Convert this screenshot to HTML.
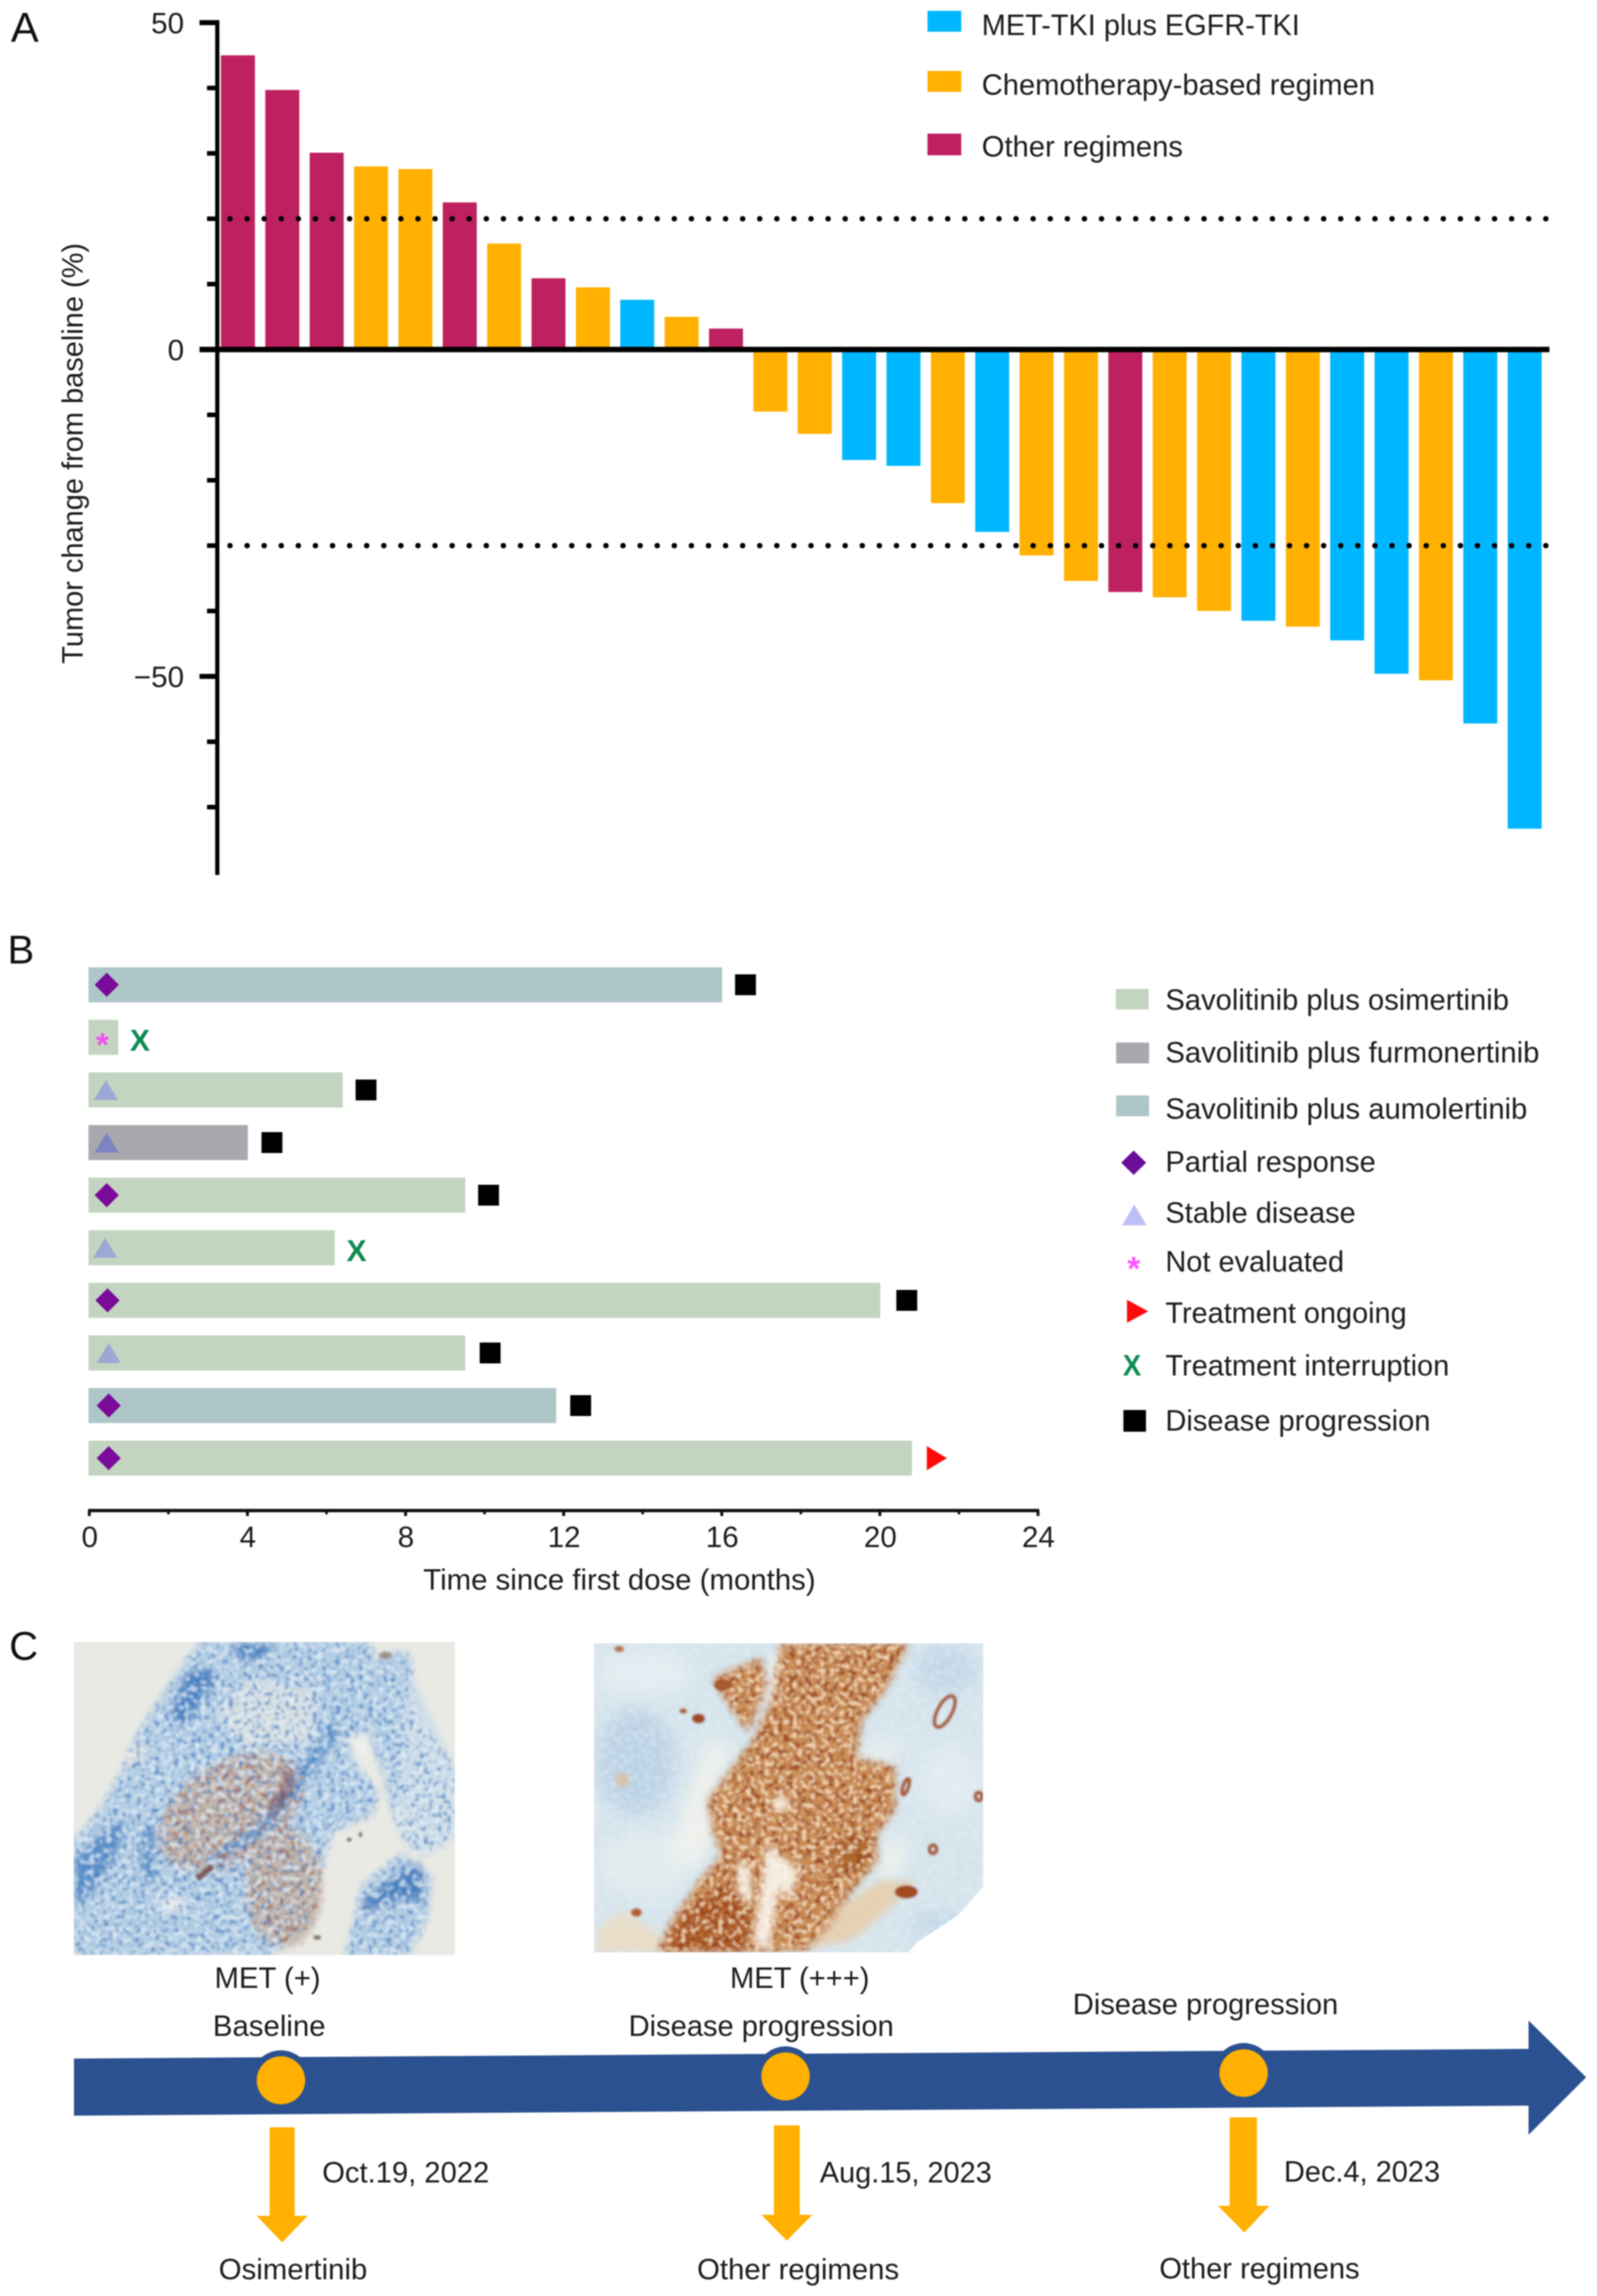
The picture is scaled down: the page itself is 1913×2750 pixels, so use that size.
<!DOCTYPE html>
<html lang="en">
<head>
<meta charset="utf-8">
<title>Tumor response, treatment duration and MET timeline</title>
<style>
html,body{margin:0;padding:0;background:#fff;}
body{width:1913px;height:2750px;overflow:hidden;}
svg{display:block;filter:blur(0.7px);}
text{font-family:"Liberation Sans",Arial,sans-serif;fill:#1c1c1c;font-size:35.5px;}
.panel{font-size:50px;fill:#111;}
</style>
</head>
<body>
<svg id="figure" xmlns="http://www.w3.org/2000/svg" width="1913" height="2750" viewBox="0 0 1913 2750">
<defs>
  <filter id="b30" x="-20%" y="-20%" width="140%" height="140%"><feGaussianBlur stdDeviation="30"/></filter>
  <filter id="b12" x="-20%" y="-20%" width="140%" height="140%"><feGaussianBlur stdDeviation="13"/></filter>
  <filter id="b4" x="-5%" y="-5%" width="110%" height="110%"><feGaussianBlur stdDeviation="4"/></filter>
  <filter id="speck-blue" x="0" y="0" width="100%" height="100%" color-interpolation-filters="sRGB">
    <feTurbulence type="fractalNoise" baseFrequency="0.06" numOctaves="2" seed="4"/>
    <feColorMatrix type="matrix" values="0 0 0 0 0.25  0 0 0 0 0.47  0 0 0 0 0.75  6 0 0 0 -3.1"/>
  </filter>
  <filter id="speck-white" x="0" y="0" width="100%" height="100%" color-interpolation-filters="sRGB">
    <feTurbulence type="fractalNoise" baseFrequency="0.05" numOctaves="2" seed="11"/>
    <feColorMatrix type="matrix" values="0 0 0 0 0.90  0 0 0 0 0.94  0 0 0 0 0.97  6 0 0 0 -3.0"/>
  </filter>
  <filter id="speck-brown" x="0" y="0" width="100%" height="100%" color-interpolation-filters="sRGB">
    <feTurbulence type="fractalNoise" baseFrequency="0.05" numOctaves="2" seed="21"/>
    <feColorMatrix type="matrix" values="0 0 0 0 0.62  0 0 0 0 0.38  0 0 0 0 0.32  7 0 0 0 -3.9"/>
  </filter>
  <filter id="speck-dark" x="0" y="0" width="100%" height="100%" color-interpolation-filters="sRGB">
    <feTurbulence type="fractalNoise" baseFrequency="0.05" numOctaves="2" seed="7"/>
    <feColorMatrix type="matrix" values="0 0 0 0 0.58  0 0 0 0 0.24  0 0 0 0 0.09  7 0 0 0 -3.5"/>
  </filter>
  <filter id="speck-cream" x="0" y="0" width="100%" height="100%" color-interpolation-filters="sRGB">
    <feTurbulence type="fractalNoise" baseFrequency="0.06" numOctaves="2" seed="15"/>
    <feColorMatrix type="matrix" values="0 0 0 0 0.98  0 0 0 0 0.90  0 0 0 0 0.78  8 0 0 0 -4.2"/>
  </filter>
  <clipPath id="clip-ihc-1"><rect x="25" y="20" width="1370" height="1125"/></clipPath>
  <clipPath id="clip-ihc-2"><polygon points="20,25 1418,25 1418,900 1330,1000 1180,1100 1150,1135 20,1135"/></clipPath>
  <mask id="m-tissue-1" maskUnits="userSpaceOnUse" x="0" y="0" width="1420" height="1170">
    <g fill="#fff" filter="url(#b12)">
      <polygon points="25,740 120,620 200,480 230,390 370,170 480,20 1090,20 1110,100 1150,60 1230,60 1260,300 1395,470 1395,720 1290,780 1230,760 1180,660 1140,500 1080,340 1000,370 1050,480 1120,560 1100,640 950,700 900,900 860,1040 740,1145 25,1145"/>
      <polygon points="1060,900 1200,780 1310,860 1300,1000 1230,1145 1000,1145 1040,1000"/>
    </g>
  </mask>
  <mask id="m-brown-1" maskUnits="userSpaceOnUse" x="0" y="0" width="1420" height="1170">
    <g fill="#fff" filter="url(#b12)">
      <ellipse cx="590" cy="630" rx="290" ry="180" transform="rotate(-32 590 630)"/>
      <ellipse cx="780" cy="900" rx="140" ry="220"/>
    </g>
  </mask>
  <mask id="m-tissue-2" maskUnits="userSpaceOnUse" x="0" y="0" width="1440" height="1170">
    <g fill="#fff" filter="url(#b12)">
      <polygon points="690,25 1150,25 1100,120 1060,200 980,300 960,440 1100,470 1100,620 1030,720 1040,800 940,920 860,1040 780,1130 240,1135 310,1010 400,880 480,790 450,700 430,590 520,470 590,380 650,250 680,100"/>
      <polygon points="450,150 620,80 640,180 570,340 510,250"/>
    </g>
  </mask>
</defs>

<!-- ===== Panel A ===== -->
<g id="panel-a">
  <text class="panel" x="13" y="50">A</text>
  <text x="0" y="0" textLength="504" lengthAdjust="spacingAndGlyphs" transform="translate(99,795) rotate(-90)">Tumor change from baseline (%)</text>
  <g id="a-bars"></g>
  <g id="a-thresholds"></g>
  <g id="a-axes"></g>
  <g>
    <rect x="1111" y="13" width="40.5" height="25" fill="#00b7ff"/>
    <text x="1176" y="42" textLength="381" lengthAdjust="spacingAndGlyphs">MET-TKI plus EGFR-TKI</text>
    <rect x="1111" y="85" width="40.5" height="25" fill="#ffb000"/>
    <text x="1176" y="113.5" textLength="471" lengthAdjust="spacingAndGlyphs">Chemotherapy-based regimen</text>
    <rect x="1111" y="160" width="40.5" height="26" fill="#be2160"/>
    <text x="1176" y="187.5" textLength="241" lengthAdjust="spacingAndGlyphs">Other regimens</text>
  </g>
</g>

<!-- ===== Panel B ===== -->
<g id="panel-b">
  <text class="panel" x="9" y="1154" style="font-size:48px">B</text>
  <g id="b-bars"></g>
  <g id="b-markers"></g>
  <g id="b-axis"></g>
  <text x="507" y="1904" textLength="470" lengthAdjust="spacingAndGlyphs">Time since first dose (months)</text>
  <g>
    <rect x="1336.5" y="1184.5" width="39.5" height="24.5" fill="#c3d5c0"/>
    <text x="1396" y="1209.3" textLength="411.5" lengthAdjust="spacingAndGlyphs">Savolitinib plus osimertinib</text>
    <rect x="1337" y="1248.7" width="39.5" height="25" fill="#a8a8ae"/>
    <text x="1396" y="1272.5" textLength="448" lengthAdjust="spacingAndGlyphs">Savolitinib plus furmonertinib</text>
    <rect x="1337" y="1312" width="39.5" height="25" fill="#afc6c8"/>
    <text x="1396" y="1340" textLength="433.5" lengthAdjust="spacingAndGlyphs">Savolitinib plus aumolertinib</text>
    <polygon points="1343,1392.6 1358,1378 1373,1392.6 1358,1407.2" fill="#6a0f9a"/>
    <text x="1396" y="1403.7" textLength="252" lengthAdjust="spacingAndGlyphs">Partial response</text>
    <polygon points="1344,1467.6 1358.7,1442.8 1373.5,1467.6" fill="#bfbff5"/>
    <text x="1396" y="1464.6" textLength="228" lengthAdjust="spacingAndGlyphs">Stable disease</text>
    <text x="1358" y="1532.9" text-anchor="middle" style="font-size:40px;font-weight:bold;fill:#ff55ff">*</text>
    <text x="1396" y="1523" textLength="214" lengthAdjust="spacingAndGlyphs">Not evaluated</text>
    <polygon points="1350,1556.8 1375.4,1570.6 1350,1584.4" fill="#ff0a0a"/>
    <text x="1396" y="1584.4" textLength="289" lengthAdjust="spacingAndGlyphs">Treatment ongoing</text>
    <text x="1345" y="1647.5" textLength="22" lengthAdjust="spacingAndGlyphs" style="font-weight:bold;fill:#0f8a4f">X</text>
    <text x="1396" y="1647.5" textLength="340" lengthAdjust="spacingAndGlyphs">Treatment interruption</text>
    <rect x="1345.7" y="1688.8" width="27" height="26" fill="#000"/>
    <text x="1396" y="1713.7" textLength="317.5" lengthAdjust="spacingAndGlyphs">Disease progression</text>
  </g>
</g>

<!-- ===== Panel C ===== -->
<g id="panel-c">
  <text class="panel" x="11" y="1988" style="font-size:48px">C</text>

  <!-- micrograph 1: MET (+) -->
  <g transform="translate(80,1960) scale(0.33333)">
    <g clip-path="url(#clip-ihc-1)">
      <g filter="url(#b4)">
      <rect x="0" y="0" width="1420" height="1170" fill="#eaeae4"/>
      <g filter="url(#b12)">
        <polygon fill="#b4cee4" points="25,740 120,620 200,480 230,390 370,170 480,20 1090,20 1110,100 1150,60 1230,60 1260,300 1395,470 1395,720 1290,780 1230,760 1180,660 1140,500 1080,340 1000,370 1050,480 1120,560 1100,640 950,700 900,900 860,1040 740,1145 25,1145"/>
        <polygon fill="#b4cee4" points="1060,900 1200,780 1310,860 1300,1000 1230,1145 1000,1145 1040,1000"/>
        <polygon fill="#cfdfe8" points="1230,120 1395,470 1395,720 1290,780 1230,760 1180,660"/>
        <polygon fill="#d8e0e2" points="650,150 900,190 880,380 640,400 540,280"/>
        <ellipse cx="590" cy="630" rx="280" ry="175" transform="rotate(-32 590 630)" fill="#c4b6aa"/>
        <ellipse cx="780" cy="900" rx="135" ry="215" fill="#c2b5aa"/>
        <polygon fill="#4f85c4" points="430,130 530,110 520,190 420,330 370,290"/>
        <polygon fill="#4f85c4" points="600,25 760,25 700,80 620,90"/>
        <polygon fill="#5a90c8" points="25,800 130,700 210,650 190,760 110,900 25,970"/>
        <polygon fill="#5a90c8" points="275,680 310,680 320,880 270,880"/>
        <polygon fill="#6a9ccc" points="960,300 990,340 740,690 520,830 490,810 700,660"/>
        <polygon fill="#4c82c0" points="1060,950 1190,850 1270,810 1280,960 1200,940 1080,990"/>
        <polygon fill="#f0f0ec" points="340,945 420,930 420,980 350,990"/>
        <polygon fill="#eeeeea" points="1000,370 1090,340 1100,420 1040,460"/>
        <polygon fill="#e4e4de" points="210,430 270,380 290,420 230,480"/>
      </g>
      <g mask="url(#m-tissue-1)"><rect x="25" y="20" width="1370" height="1125" fill="#000" filter="url(#speck-blue)" opacity=".75"/></g>
      <g mask="url(#m-tissue-1)"><rect x="25" y="20" width="1370" height="1125" fill="#000" filter="url(#speck-white)" opacity=".75"/></g>
      <g mask="url(#m-brown-1)"><rect x="25" y="20" width="1370" height="1125" fill="#000" filter="url(#speck-brown)" opacity=".65"/></g>
      <polygon fill="#7a3f48" points="780,470 810,490 800,570 740,630 725,610 780,540" opacity=".7" filter="url(#b12)"/>
      <polygon fill="#6d4038" points="460,860 520,820 530,835 475,880" opacity=".8"/>
      <ellipse cx="1145" cy="68" rx="24" ry="14" fill="#8a7a68" opacity=".7"/>
      <ellipse cx="1015" cy="730" rx="9" ry="8" fill="#6c6a62"/>
      <ellipse cx="1055" cy="712" rx="7" ry="10" fill="#6c6a62"/>
      <ellipse cx="900" cy="1082" rx="14" ry="9" fill="#7a7266"/>
      </g>
    </g>
  </g>

  <!-- micrograph 2: MET (+++) -->
  <g transform="translate(705,1960) scale(0.33333)">
    <g clip-path="url(#clip-ihc-2)">
      <g filter="url(#b4)">
      <rect x="0" y="0" width="1440" height="1170" fill="#d6e4ec"/>
      <g filter="url(#b30)">
        <ellipse cx="170" cy="450" rx="140" ry="190" fill="#bcd3e5"/>
        <ellipse cx="200" cy="130" rx="170" ry="80" fill="#e4edf1"/>
        <ellipse cx="210" cy="820" rx="170" ry="120" fill="#e2ebee"/>
        <ellipse cx="1280" cy="120" rx="110" ry="90" fill="#c2d8e8"/>
        <ellipse cx="1300" cy="520" rx="110" ry="130" fill="#e2ebf1"/>
        <ellipse cx="1260" cy="1040" rx="110" ry="50" fill="#c4d9e8"/>
        <polygon fill="#f7f4ec" opacity=".85" points="430,370 520,400 430,590 450,700 400,830 300,780 350,600"/>
        <polygon fill="#f7f4ec" opacity=".85" points="1000,400 1130,380 1090,440 980,450"/>
        <polygon fill="#f7f4ec" opacity=".85" points="1060,760 1140,700 1120,850 1040,870"/>
      </g>
      <g mask="none"><rect x="20" y="25" width="1400" height="1110" fill="#000" filter="url(#speck-white)" opacity=".45"/></g>
      <g filter="url(#b12)">
        <polygon fill="#c98c54" points="690,25 1150,25 1100,120 1060,200 980,300 960,440 1100,470 1100,620 1030,720 1040,800 940,920 860,1040 780,1130 240,1135 310,1010 400,880 480,790 450,700 430,590 520,470 590,380 650,250 680,100"/>
        <polygon fill="#c98c54" points="450,150 620,80 640,180 570,340 510,250"/>
        <polygon fill="#e8cda8" opacity=".85" points="1040,880 1180,880 1100,960 950,1090 800,1120 900,980"/>
        <polygon fill="#ecdcc0" opacity=".8" points="120,980 240,1060 300,1135 30,1135 30,1060"/>
        <polygon fill="#ad5a24" points="330,1000 500,890 590,1000 560,1135 260,1135"/>
        <polygon fill="#b06a2c" points="880,740 1020,720 1000,840 880,860"/>
      </g>
      <polygon fill="#f8f3ea" opacity=".85" points="660,60 690,60 660,240 640,240" filter="url(#b12)"/>
      <g mask="url(#m-tissue-2)"><rect x="20" y="25" width="1400" height="1110" fill="#000" filter="url(#speck-dark)" opacity=".85"/></g>
      <g mask="url(#m-tissue-2)"><rect x="20" y="25" width="1400" height="1110" fill="#000" filter="url(#speck-cream)" opacity=".85"/></g>
      <g filter="url(#b12)" fill="#faf6ee" opacity=".9">
        <polygon points="640,740 700,800 650,1130 590,1100 620,900"/>
        <polygon points="530,800 580,830 590,960 540,930"/>
        <polygon points="670,570 730,590 710,630 660,620"/>
        <polygon points="700,800 760,840 720,950 680,900"/>
      </g>
      <ellipse cx="1142" cy="918" rx="42" ry="24" fill="#a34a1c"/>
      <ellipse cx="395" cy="295" rx="24" ry="18" fill="#a34a22"/>
      <ellipse cx="340" cy="268" rx="14" ry="10" fill="#b0602c"/>
      <ellipse cx="480" cy="175" rx="30" ry="22" fill="#a8582a"/>
      <ellipse cx="172" cy="992" rx="20" ry="16" fill="#b4612c"/>
      <ellipse cx="110" cy="45" rx="18" ry="12" fill="#b87a50"/>
      <ellipse cx="120" cy="515" rx="26" ry="26" fill="#dcc2a4" opacity=".8"/>
      <g fill="none" stroke="#a8562c" stroke-width="14">
        <ellipse cx="1280" cy="270" rx="26" ry="62" transform="rotate(28 1280 270)"/>
        <ellipse cx="1402" cy="575" rx="12" ry="15"/>
        <ellipse cx="1238" cy="765" rx="13" ry="15"/>
        <ellipse cx="1140" cy="540" rx="10" ry="30" transform="rotate(18 1140 540)"/>
      </g>
      </g>
    </g>
  </g>

  <text x="257" y="2381" textLength="127" lengthAdjust="spacingAndGlyphs">MET (+)</text>
  <text x="874.5" y="2381" textLength="167" lengthAdjust="spacingAndGlyphs">MET (+++)</text>
  <text x="255" y="2438.4" textLength="135" lengthAdjust="spacingAndGlyphs">Baseline</text>
  <text x="753" y="2438.4" textLength="317.6" lengthAdjust="spacingAndGlyphs">Disease progression</text>
  <text x="1285" y="2412.7" textLength="318" lengthAdjust="spacingAndGlyphs">Disease progression</text>

  <circle cx="336.5" cy="2491.7" r="36" fill="#2b5190"/>
  <circle cx="941" cy="2487" r="36" fill="#2b5190"/>
  <circle cx="1489.7" cy="2483" r="36" fill="#2b5190"/>
  <polygon points="88.6,2465.6 1831,2454 1831,2420 1900,2488 1831,2557 1831,2522 88.6,2534" fill="#2b5190"/>
  <ellipse cx="336.5" cy="2491.7" rx="29" ry="28.8" fill="#ffb000"/>
  <ellipse cx="941" cy="2487" rx="29" ry="28.8" fill="#ffb000"/>
  <ellipse cx="1489.7" cy="2483" rx="29" ry="28.5" fill="#ffb000"/>

  <polygon points="323,2548 353,2548 353,2654 368.6,2654 338,2685.8 307.5,2654 323,2654" fill="#ffb000"/>
  <polygon points="927,2545.6 958,2545.6 958,2652.8 973,2652.8 942.5,2683.7 912,2652.8 927,2652.8" fill="#ffb000"/>
  <polygon points="1473,2536 1505.6,2536 1505.6,2642 1520.6,2642 1490.6,2674 1459,2642 1473,2642" fill="#ffb000"/>

  <text x="386" y="2614" textLength="200" lengthAdjust="spacingAndGlyphs">Oct.19, 2022</text>
  <text x="982" y="2614" textLength="206" lengthAdjust="spacingAndGlyphs">Aug.15, 2023</text>
  <text x="1538" y="2613" textLength="187" lengthAdjust="spacingAndGlyphs">Dec.4, 2023</text>
  <text x="262" y="2730" textLength="178" lengthAdjust="spacingAndGlyphs">Osimertinib</text>
  <text x="835" y="2730" textLength="242" lengthAdjust="spacingAndGlyphs">Other regimens</text>
  <text x="1388.7" y="2729" textLength="240" lengthAdjust="spacingAndGlyphs">Other regimens</text>
</g>
</svg>

<script>
// ---------- Panel A data ----------
const tumorChange = [45.0, 39.7, 30.1, 28.0, 27.6, 22.5, 16.2, 10.9, 9.5, 7.6, 5.0, 3.2, -9.5, -12.9, -16.9, -17.8, -23.5, -27.9, -31.5, -35.4, -37.1, -37.9, -40.0, -41.5, -42.4, -44.5, -49.6, -50.6, -57.2, -73.3];
const regimenA = ['other','other','other','chemo','chemo','other','chemo','other','chemo','met','chemo','other','chemo','chemo','met','met','chemo','met','chemo','chemo','other','chemo','chemo','met','chemo','met','met','chemo','met','met'];
const yMajorTicks = [50, 0, -50];
const yMajorLabels = ['50', '0', '\u221250'];
const yMinorTicks = [40, 30, 20, 10, -10, -20, -30, -40, -60, -70];
const thresholds = [20, -30];

// ---------- Panel B data ----------
const treatmentMonths = [16.0, 0.72, 6.4, 4.0, 9.5, 6.2, 20.0, 9.5, 11.8, 20.8];
const regimenB = ['aum','osi','osi','fur','osi','osi','osi','osi','aum','osi'];
const responseType = ['pr','ne','sd','sd','pr','sd','pr','sd','pr','pr'];
const responseMonth = [0.44, 0.33, 0.42, 0.44, 0.44, 0.40, 0.46, 0.49, 0.49, 0.49];
const endType = ['pd','int','pd','pd','pd','int','pd','pd','pd','ongoing'];
const endMonth = [16.6, 1.28, 7.0, 4.62, 10.1, 6.76, 20.68, 10.14, 12.43, 21.44];
const xMajorTicks = [0, 4, 8, 12, 16, 20, 24];
const xMinorTicks = [2, 6, 10, 14, 18, 22];

const NS = 'http://www.w3.org/2000/svg';
function mk(parent, tag, attrs, txt) {
  const el = document.createElementNS(NS, tag);
  for (const k in attrs) el.setAttribute(k, attrs[k]);
  if (txt !== undefined) el.textContent = txt;
  parent.appendChild(el);
  return el;
}

// Panel A scales
const yA = v => 418.6 - v * 7.83;
const xA = i => 285 + i * 53.15;
const barW = 40.7;
const colorA = { met: '#00b7ff', chemo: '#ffb000', other: '#be2160' };

const aBars = document.getElementById('a-bars');
tumorChange.forEach((v, i) => {
  const top = Math.min(yA(v), yA(0));
  const h = Math.abs(yA(v) - yA(0));
  const r = mk(aBars, 'rect', { x: xA(i) - barW / 2, y: top, width: barW, height: h, fill: colorA[regimenA[i]] });
  
  
});

const aTh = document.getElementById('a-thresholds');
thresholds.forEach(t => {
  const l = mk(aTh, 'line', { x1: 275.5, x2: 1858, y1: yA(t), y2: yA(t), stroke: '#000', 'stroke-width': 6.6, 'stroke-linecap': 'round', 'stroke-dasharray': '0 20.47' });
  
  
});

const aAx = document.getElementById('a-axes');
const yAxisLine = mk(aAx, 'line', { x1: 260.3, x2: 260.3, y1: yA(50) - 3, y2: yA(-80) + 3, stroke: '#000', 'stroke-width': 5 });


const zeroLine = mk(aAx, 'line', { x1: 239, x2: 1856, y1: yA(0), y2: yA(0), stroke: '#000', 'stroke-width': 6.5 });


yMajorTicks.forEach((t, i) => {
  const tk = mk(aAx, 'line', { x1: 239, x2: 260, y1: yA(t), y2: yA(t), stroke: '#000', 'stroke-width': 6 });
  
  
  const lb = mk(aAx, 'text', { x: 220.5, y: yA(t) + 13, 'text-anchor': 'end' }, yMajorLabels[i]);
  
  
});
yMinorTicks.forEach(t => {
  const tk = mk(aAx, 'line', { x1: 248, x2: 260, y1: yA(t), y2: yA(t), stroke: '#000', 'stroke-width': 5.5 });
  
  
});

// Panel B scales
const xB = m => 107 + m * 47.35;
const rowCenter = i => 1179.5 + i * 63;
const barH = 42;
const colorB = { osi: '#c3d5c0', fur: '#a8a8ae', aum: '#afc6c8' };

const bBars = document.getElementById('b-bars');
treatmentMonths.forEach((m, i) => {
  const r = mk(bBars, 'rect', { x: xB(0) - 1, y: rowCenter(i) - barH / 2, width: xB(m) - xB(0) + 1.5, height: barH, fill: colorB[regimenB[i]] });
  
  
});

const bMk = document.getElementById('b-markers');
responseType.forEach((t, i) => {
  const cx = xB(responseMonth[i]);
  const cy = rowCenter(i);
  let el;
  if (t === 'pr') {
    el = mk(bMk, 'polygon', { points: [[cx - 14.5, cy], [cx, cy - 14.5], [cx + 14.5, cy], [cx, cy + 14.5]].join(' '), fill: '#7a0a9a' });
  } else if (t === 'sd') {
    const fill = regimenB[i] === 'fur' ? '#7d84c2' : '#9aa8d3';
    el = mk(bMk, 'polygon', { points: [[cx - 14.5, cy + 12], [cx, cy - 12], [cx + 14.5, cy + 12]].join(' '), fill: fill });
  } else {
    el = mk(bMk, 'text', { x: cx, y: cy + 22.5, 'text-anchor': 'middle', style: 'font-size:40px;font-weight:bold;fill:#f04ff0' }, '*');
  }
  
  
});
endType.forEach((t, i) => {
  const cx = xB(endMonth[i]);
  const cy = rowCenter(i);
  let el;
  if (t === 'pd') {
    el = mk(bMk, 'rect', { x: cx - 12.5, y: cy - 12.5, width: 25, height: 25, fill: '#000' });
  } else if (t === 'int') {
    el = mk(bMk, 'text', { x: cx, y: cy + 16, 'text-anchor': 'middle', style: 'font-size:36px;font-weight:bold;fill:#0f8a4f' }, 'X');
  } else {
    el = mk(bMk, 'polygon', { points: [[cx - 12, cy - 14.5], [cx + 12, cy], [cx - 12, cy + 14.5]].join(' '), fill: '#ff0a0a' });
  }
  
  
});

const bAx = document.getElementById('b-axis');
const xAxisY = 1809.3;
const xAxisLine = mk(bAx, 'line', { x1: xB(0) - 1.5, x2: xB(24) + 1.5, y1: xAxisY, y2: xAxisY, stroke: '#111', 'stroke-width': 4 });


xMajorTicks.forEach(t => {
  const tk = mk(bAx, 'line', { x1: xB(t), x2: xB(t), y1: xAxisY, y2: xAxisY + 6.5, stroke: '#111', 'stroke-width': 3.5 });
  
  
  const lb = mk(bAx, 'text', { x: xB(t) + 0.5, y: 1853, 'text-anchor': 'middle' }, String(t));
  
  
});
xMinorTicks.forEach(t => {
  const tk = mk(bAx, 'line', { x1: xB(t), x2: xB(t), y1: xAxisY, y2: xAxisY + 4.5, stroke: '#111', 'stroke-width': 3 });
  
  
});
</script>
</body>
</html>
